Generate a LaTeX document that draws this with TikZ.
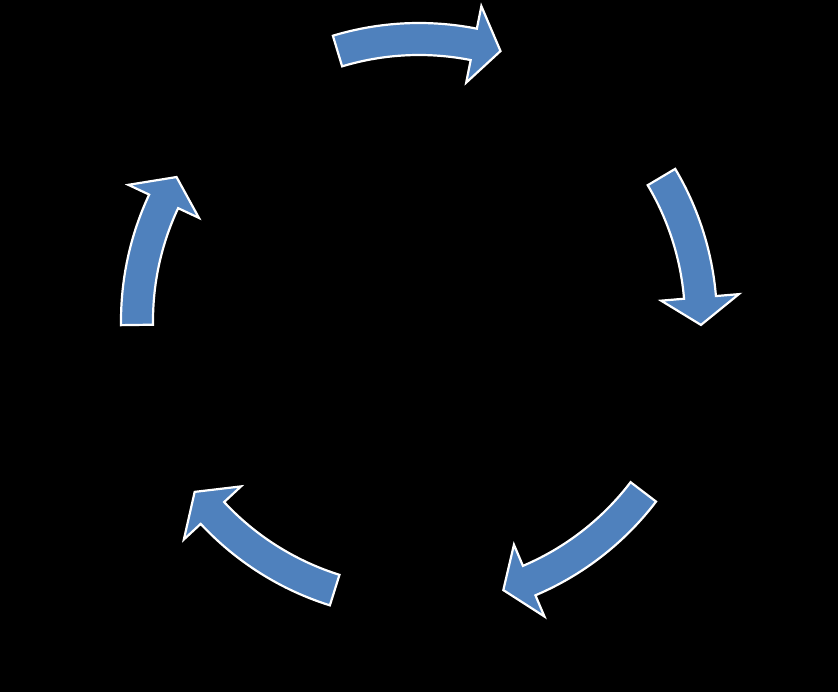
\documentclass[tikz,border=0pt]{standalone}
\definecolor{arrowblue}{HTML}{4F81BD}
\tikzset{cyclearrow/.style={fill=arrowblue, draw=white, line width=2.2pt, line join=miter}}
\newcommand\cycarrow[2]{%
  \pgfmathsetmacro\cychb{#2+5.6}%
  \draw[cyclearrow] (#1:298pt) arc[start angle=#1, end angle=\cychb, radius=298pt]
    -- (\cychb:321pt) -- (#2:282pt) -- (\cychb:243pt) -- (\cychb:266pt)
    arc[start angle=\cychb, end angle=#1, radius=266pt] -- cycle;}
\begin{document}
\begin{tikzpicture}
  \useasboundingbox (-419pt,-371pt) rectangle (419pt,321pt);
  \fill[black] (-419pt,-371pt) rectangle (419pt,321pt);
  \cycarrow{106.8}{73.2}
  \cycarrow{30.7}{-0.8}
  \cycarrow{-37.3}{-72.6}
  \cycarrow{-107.4}{-142.7}
  \cycarrow{180.8}{149.3}
\end{tikzpicture}
\end{document}
